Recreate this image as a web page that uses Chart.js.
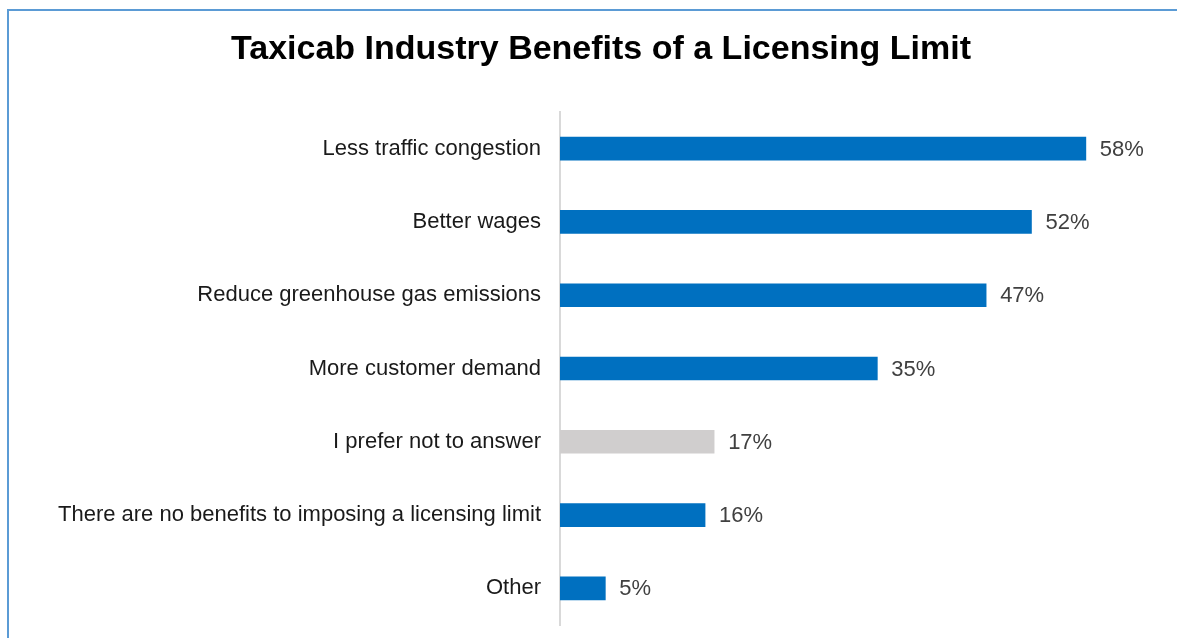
<!DOCTYPE html>
<html>
<head>
<meta charset="utf-8">
<script src="https://cdn.jsdelivr.net/npm/chart.js@4.4.1/dist/chart.umd.min.js"></script>
<style>
  html, body { margin: 0; padding: 0; background: #ffffff; }
  #wrap { position: relative; width: 1177px; height: 638px; overflow: hidden; }
  #frame {
    position: absolute; left: 7px; top: 9px; width: 1200px; height: 660px;
    border-top: 2px solid #5b9bd5; border-left: 2px solid #5b9bd5;
  }
  #chart { position: absolute; left: 0; top: 0; }
</style>
</head>
<body>
<div id="wrap">
  <div id="frame"></div>
  <canvas id="chart" width="1177" height="638"></canvas>
</div>
<script>
const CATEGORIES = [
  'Less traffic congestion',
  'Better wages',
  'Reduce greenhouse gas emissions',
  'More customer demand',
  'I prefer not to answer',
  'There are no benefits to imposing a licensing limit',
  'Other',
]
const PERCENTS = [58, 52, 47, 35, 17, 16, 5]
const TITLE = 'Taxicab Industry Benefits of a Licensing Limit'

const FONT = '"Liberation Sans", Arial, sans-serif'
const BLUE = '#0070c0'
const GREY = '#d0cece'
const barColors = CATEGORIES.map((c) => (c === 'I prefer not to answer' ? GREY : BLUE))

// title drawn by hand so it can sit centred over the whole frame
const titleText = {
  id: 'titleText',
  afterDraw(chart) {
    const { ctx } = chart
    ctx.save()
    ctx.font = `bold 34px ${FONT}`
    ctx.fillStyle = '#000000'
    ctx.textAlign = 'center'
    ctx.textBaseline = 'alphabetic'
    ctx.fillText(TITLE, 601, 59)
    ctx.restore()
  },
}

// value labels to the right of each bar
const valueLabels = {
  id: 'valueLabels',
  afterDatasetsDraw(chart) {
    const { ctx } = chart
    const meta = chart.getDatasetMeta(0)
    ctx.save()
    ctx.font = `22px ${FONT}`
    ctx.fillStyle = '#404040'
    ctx.textAlign = 'left'
    ctx.textBaseline = 'middle'
    meta.data.forEach((bar, i) => {
      ctx.fillText(PERCENTS[i] + '%', bar.x + 14, bar.y + 1)
    })
    ctx.restore()
  },
}

new Chart(document.getElementById('chart'), {
  type: 'bar',
  data: {
    labels: CATEGORIES,
    datasets: [{
      data: PERCENTS,
      backgroundColor: barColors,
      barThickness: 23,
      borderWidth: 0,
    }],
  },
  options: {
    indexAxis: 'y',
    animation: false,
    responsive: false,
    layout: { padding: { top: 112, right: 73, bottom: 13, left: 0 } },
    scales: {
      x: {
        display: false,
        min: 0,
        max: 60,
      },
      y: {
        afterFit: (scale) => {
          scale.width = 560
          // labels sit inside their bands, so no extra room above/below is needed
          scale.paddingTop = 0
          scale.paddingBottom = 0
        },
        grid: { display: false, drawTicks: false },
        border: { display: true, color: '#d9d9d9', width: 2 },
        ticks: {
          padding: 19,
          color: '#1a1a1a',
          font: { family: FONT, size: 22 },
        },
      },
    },
    plugins: {
      legend: { display: false },
      tooltip: { enabled: false },
      title: { display: false },
    },
  },
  plugins: [valueLabels, titleText],
})
</script>
</body>
</html>
